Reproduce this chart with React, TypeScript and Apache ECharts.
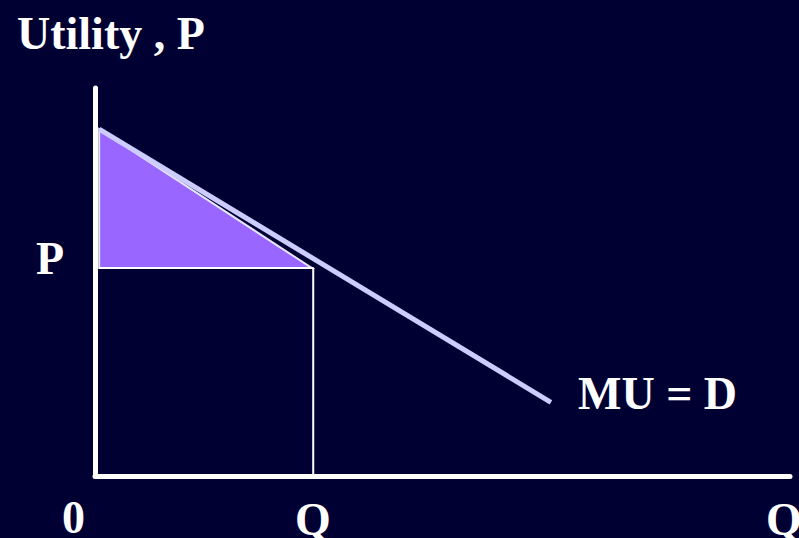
import React, { useEffect, useRef } from "react";
import * as echarts from "echarts";

// Demand (MU = D) line end points, in axis units (Q, P)
const demandQ = [0.06, 6.56];
const demandP = [8.94, 1.9];
// Market price and quantity
const priceP = 5.36;
const quantityQ = 3.14;
// Consumer surplus triangle vertices
const surplusQ = [0.06, 0.06, 3.12];
const surplusP = [8.94, 5.36, 5.36];

const BG = "#000033";
const FONT = "'Liberation Serif', 'Times New Roman', serif";

export default function App() {
  const ref = useRef<HTMLDivElement>(null);
  useEffect(() => {
    if (!ref.current) return;
    const chart = echarts.init(ref.current, undefined, { renderer: "svg" });
    const txt = (text: string, x: number, y: number) => ({
      type: "text",
      x,
      y,
      style: {
        text,
        fill: "#ffffff",
        font: `bold 46px ${FONT}`,
        verticalAlign: "bottom",
      },
    });
    const option: any = {
      animation: false,
      backgroundColor: BG,
      grid: { left: 95, right: 9, top: 88, bottom: 62, containLabel: false },
      xAxis: {
        type: "value",
        min: 0,
        max: 10,
        axisLine: { show: true, onZero: false, lineStyle: { color: "#ffffff", width: 5 } },
        axisTick: { show: false },
        axisLabel: { show: false },
        splitLine: { show: false },
      },
      yAxis: {
        type: "value",
        min: 0,
        max: 10,
        axisLine: { show: true, onZero: false, lineStyle: { color: "#ffffff", width: 5 } },
        axisTick: { show: false },
        axisLabel: { show: false },
        splitLine: { show: false },
      },
      series: [
        {
          type: "custom",
          data: [0],
          z: 1,
          renderItem: (_p: any, api: any) => {
            const pts = surplusQ.map((q, i) => api.coord([q, surplusP[i]]));
            return {
              type: "polygon",
              shape: { points: pts },
              style: { fill: "#9966FF", stroke: "#e6e6ff", lineWidth: 2 },
            };
          },
        },
        {
          type: "line",
          z: 2,
          symbol: "none",
          data: [
            [surplusQ[1], priceP],
            [quantityQ, priceP],
            [quantityQ, 0],
          ],
          lineStyle: { color: "#ffffff", width: 2 },
        },
        {
          type: "line",
          z: 3,
          symbol: "none",
          data: [
            [demandQ[0], demandP[0]],
            [demandQ[1], demandP[1]],
          ],
          lineStyle: { color: "#CCCCFF", width: 5 },
        },
      ],
      graphic: [
        txt("Utility , P", 17, 56),
        txt("P", 36, 281),
        txt("0", 62, 540),
        txt("Q", 295, 542),
        txt("Q", 766, 542),
        txt("MU = D", 578, 416),
      ],
    };
    chart.setOption(option);
    return () => chart.dispose();
  }, []);
  return (
    <div
      ref={ref}
      style={{ width: 799, height: 538, position: "fixed", left: 0, top: 0 }}
    />
  );
}
